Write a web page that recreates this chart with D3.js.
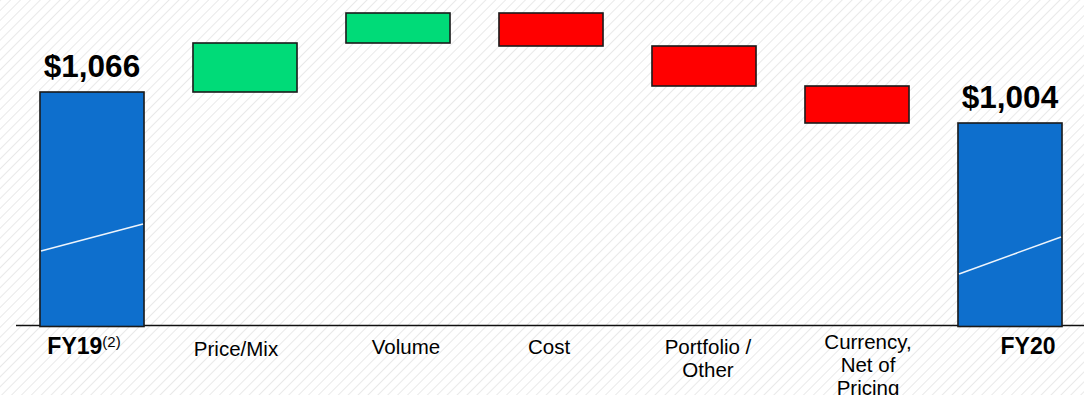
<!DOCTYPE html>
<html>
<head>
<meta charset="utf-8">
<script src="https://cdn.jsdelivr.net/npm/d3@7/dist/d3.min.js"></script>
<style>
  html, body { margin: 0; padding: 0; background: #fff; }
  svg { display: block; font-family: Arial, "Liberation Sans", sans-serif; }
</style>
</head>
<body>
<svg id="chart" width="1084" height="395"></svg>
<script>
// Operating income bridge, FY19 -> FY20 ($ millions)
const categories = ["FY19", "Price/Mix", "Volume", "Cost", "Portfolio / Other", "Currency, Net of Pricing", "FY20"];
const labelLines = [["FY19"], ["Price/Mix"], ["Volume"], ["Cost"], ["Portfolio /", "Other"], ["Currency,", "Net of", "Pricing"], ["FY20"]];
const kinds = ["total", "delta", "delta", "delta", "delta", "delta", "total"];
const values = [1066, 98, 60, -66, -80, -74, 1004];
const totalLabels = ["$1,066", "$1,004"];
const yDomain = [600, 1250];

// horizontal nudges of the category labels under each bar
const labelNudge = [-8, -9, 8, -2, 4, 11, 18];

const W = 1084, H = 395;
const svg = d3.select("#chart");

// faint diagonal hatch across the background
const defs = svg.append("defs");
const pat = defs.append("pattern")
  .attr("id", "hatch").attr("patternUnits", "userSpaceOnUse")
  .attr("width", 7).attr("height", 7)
  .attr("patternTransform", "rotate(45)");
pat.append("line").attr("x1", 0).attr("y1", 0).attr("x2", 0).attr("y2", 7)
  .attr("stroke", "#e9e9e9").attr("stroke-width", 2);
svg.append("rect").attr("width", W).attr("height", H).attr("fill", "#fff");
svg.append("rect").attr("width", W).attr("height", H).attr("fill", "url(#hatch)");

const x = d3.scaleBand().domain(categories).range([15.5, 1086.5])
  .paddingInner(0.32).paddingOuter(0.16);
const y = d3.scaleLinear().domain(yDomain).range([325, 0]);

// running totals for the floating steps
let running = 0;
const bars = categories.map((c, i) => {
  let lo, hi;
  if (kinds[i] === "total") {
    running = values[i];
    lo = yDomain[0]; hi = values[i];
  } else {
    const start = running;
    running += values[i];
    lo = Math.min(start, running); hi = Math.max(start, running);
  }
  const fill = kinds[i] === "total" ? "#0e6fcd" : (values[i] >= 0 ? "#00db78" : "#ff0000");
  return { c, i, lo, hi, fill, kind: kinds[i] };
});

// baseline
svg.append("line")
  .attr("x1", 16).attr("x2", W)
  .attr("y1", y(yDomain[0]) + 0.5).attr("y2", y(yDomain[0]) + 0.5)
  .attr("stroke", "#111").attr("stroke-width", 1.3);

svg.append("g").selectAll("rect").data(bars).join("rect")
  .attr("x", d => x(d.c))
  .attr("y", d => y(d.hi))
  .attr("width", x.bandwidth())
  .attr("height", d => y(d.lo) - y(d.hi) + (d.kind === "total" ? 1.5 : 0))
  .attr("fill", d => d.fill)
  .attr("stroke", "#1a1a1a").attr("stroke-width", 1.6);

// light glint line across the total bars
const totals = bars.filter(d => d.kind === "total");
svg.append("g").selectAll("line").data(totals).join("line")
  .attr("x1", d => x(d.c) + 1)
  .attr("x2", d => x(d.c) + x.bandwidth() - 1)
  .attr("y1", d => y(d.lo) - (d.i === 0 ? 74 : 51))
  .attr("y2", d => y(d.lo) - (d.i === 0 ? 101 : 88))
  .attr("stroke", "#eef4fb").attr("stroke-width", 1.5);

// value labels above the total bars
svg.append("g").selectAll("text").data(totals).join("text")
  .attr("x", d => x(d.c) + x.bandwidth() / 2)
  .attr("y", d => y(d.hi) - 15)
  .attr("text-anchor", "middle")
  .attr("font-size", 31.5).attr("font-weight", "bold").attr("fill", "#000")
  .text((d, k) => totalLabels[k]);

// category labels
const lab = svg.append("g").selectAll("text").data(bars).join("text")
  .attr("x", d => x(d.c) + x.bandwidth() / 2 + labelNudge[d.i])
  .attr("y", d => labelLines[d.i].length === 3 ? 349 : (d.i === 1 ? 356 : 354))
  .attr("text-anchor", "middle")
  .attr("font-size", d => d.kind === "total" ? 23 : 20.5)
  .attr("font-weight", d => d.kind === "total" ? "bold" : "normal")
  .attr("fill", "#000");

lab.each(function(d) {
  const t = d3.select(this);
  labelLines[d.i].forEach((ln, k) => {
    t.append("tspan").attr("x", x(d.c) + x.bandwidth() / 2 + labelNudge[d.i])
      .attr("dy", k === 0 ? 0 : 23).text(ln);
  });
  if (d.i === 0) {
    t.append("tspan").attr("font-size", 15).attr("font-weight", "normal")
      .attr("dy", -7).text("(2)");
  }
});
</script>
</body>
</html>
